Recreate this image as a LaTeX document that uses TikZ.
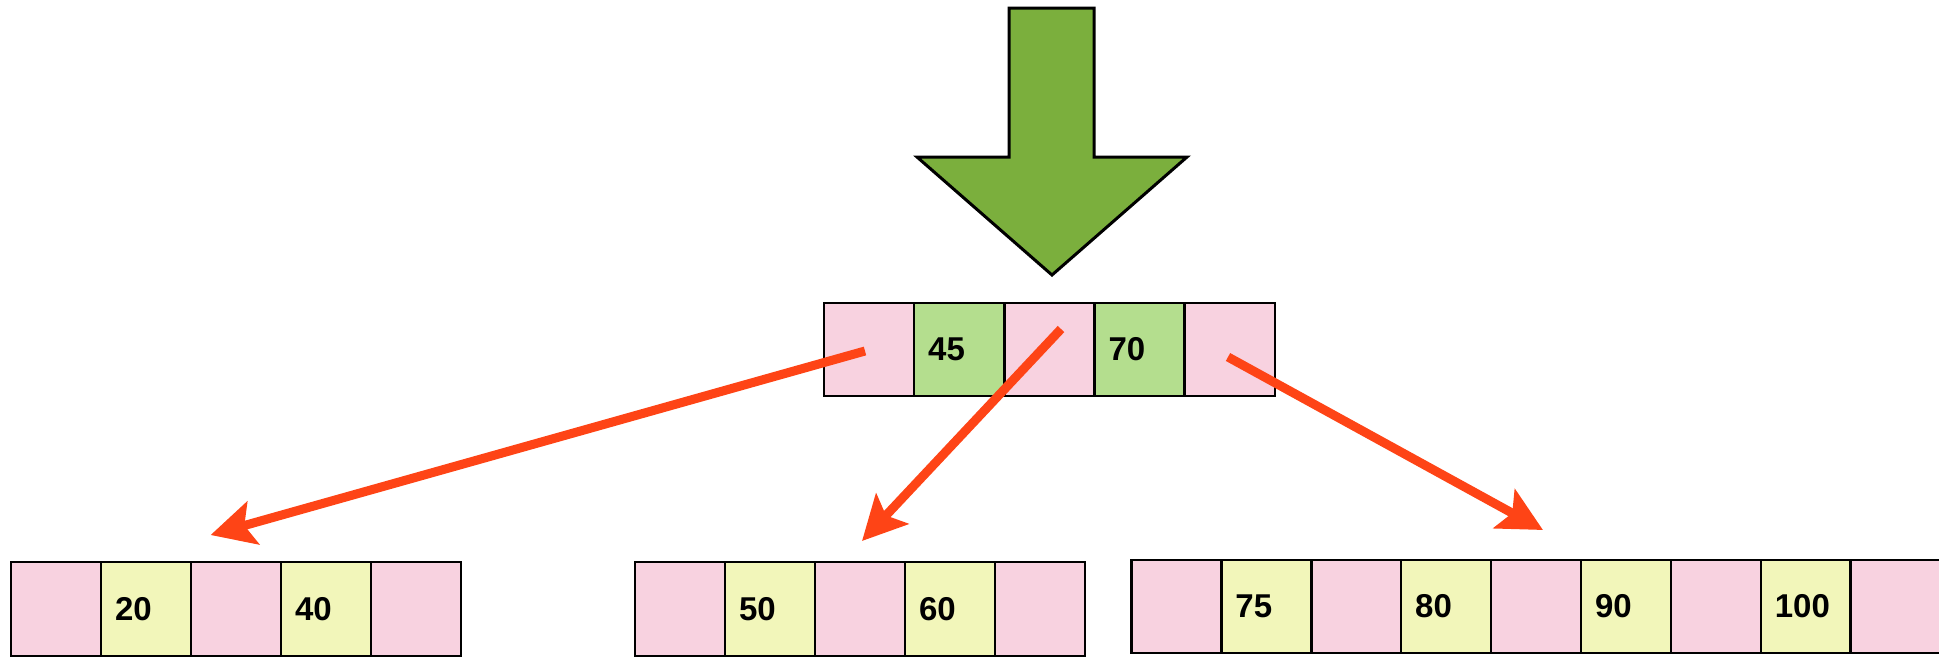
\documentclass[tikz,border=0pt]{standalone}
\usepackage{fontspec}
\setmainfont{Liberation Sans}
\usetikzlibrary{arrows.meta}
\definecolor{cpink}{RGB}{248,210,224}
\definecolor{cgreen}{RGB}{180,222,142}
\definecolor{cyellow}{RGB}{242,246,186}
\definecolor{cbig}{RGB}{123,175,61}
\definecolor{cred}{RGB}{254,68,22}
\begin{document}
\begin{tikzpicture}[x=1pt,y=-1pt,
  cell/.style={draw=black, line width=2.5pt, inner sep=0pt, inner xsep=14pt, outer sep=0pt,
    minimum width=90pt, minimum height=93pt, text width=62pt, align=left, anchor=west,
    font=\fontsize{33}{40}\selectfont\bfseries},
  redarrow/.style={draw=cred, line width=9pt,
    -{Stealth[length=44pt,width=44pt,inset=9pt]}},
  bigarrow/.style={draw=black, fill=cbig, line width=3pt, line join=miter}]
\useasboundingbox (0,0) rectangle (1939,657);

% incoming big arrow
\draw[bigarrow] (1009,8) -- (1094,8) -- (1094,157) -- (1187,157) -- (1052,275)
  -- (917,157) -- (1009,157) -- cycle;

% top node
\foreach \i/\c/\t in {1/cpink/,2/cgreen/45,3/cpink/,4/cgreen/70,5/cpink/}
  \node[cell, fill=\c] (t\i) at ({824+(\i-1)*90.2},349.5) {\t};

% bottom-left node
\foreach \i/\c/\t in {1/cpink/,2/cyellow/20,3/cpink/,4/cyellow/40,5/cpink/}
  \node[cell, fill=\c, minimum height=94pt] (l\i) at ({11+(\i-1)*90},609) {\t};

% bottom-middle node
\foreach \i/\c/\t in {1/cpink/,2/cyellow/50,3/cpink/,4/cyellow/60,5/cpink/}
  \node[cell, fill=\c, minimum height=94pt] (m\i) at ({635+(\i-1)*90},609) {\t};

% bottom-right node
\foreach \i/\c/\t in {1/cpink/,2/cyellow/75,3/cpink/,4/cyellow/80,5/cpink/,6/cyellow/90,7/cpink/,8/cyellow/100,9/cpink/}
  \node[cell, fill=\c] (r\i) at ({1131.5+(\i-1)*89.9},606.5) {\t};

% pointers
\coordinate (s1) at (865,351);
\coordinate (e1) at (210.6,535);
\coordinate (s2) at (1061,329);
\coordinate (e2) at (862,541);
\coordinate (s3) at (1228,357);
\coordinate (e3) at (1543,530);
\draw[redarrow] (s1) -- (e1);
\draw[redarrow] (s2) -- (e2);
\draw[redarrow] (s3) -- (e3);
\end{tikzpicture}
\end{document}
